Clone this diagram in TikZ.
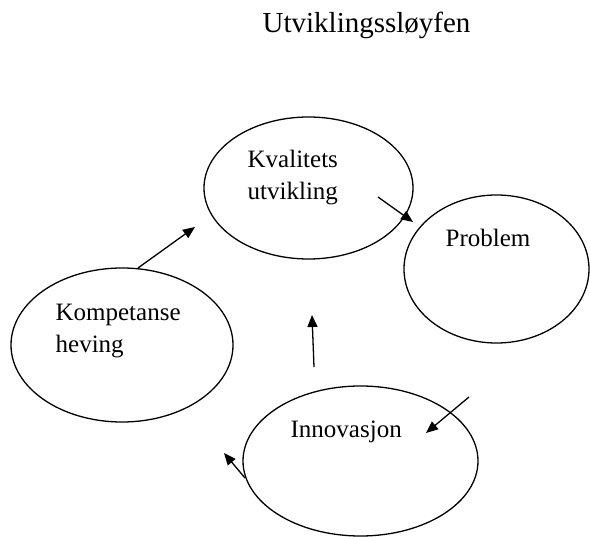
\documentclass[tikz,border=0pt]{standalone}
\usepackage{fontspec}
\setmainfont{Liberation Serif}
\usetikzlibrary{arrows.meta,shapes.geometric}

\begin{document}
\begin{tikzpicture}[x=1pt,y=-1pt,->,>={Triangle[length=12pt,width=10pt]},line width=1.3pt,
                    blob/.style={ellipse,draw,inner sep=0pt,-},
                    txt/.style={anchor=base west,inner sep=0pt,align=left,
                                font=\fontsize{25}{32.5}\selectfont}]

  \useasboundingbox (0,0) rectangle (590,537);

  \node[txt,font=\fontsize{29}{35}\selectfont] (title) at (262,33) {Utviklingssløyfen};

  \node[blob,minimum width=209pt,minimum height=142pt] (kval) at (308.5,188) {};
  \node[blob,minimum width=185pt,minimum height=148pt] (prob) at (496.5,269) {};
  \node[blob,minimum width=222pt,minimum height=154pt] (komp) at (122,345) {};
  \node[blob,minimum width=235pt,minimum height=150pt] (inno) at (360.5,461) {};

  % base of the last line
  \node[txt] (kvaltxt) at (247,200) {Kvalitets\\utvikling};
  \node[txt] (probtxt) at (445,247) {Problem};
  \node[txt] (komptxt) at (55,353)  {Kompetanse\\heving};
  \node[txt] (innotxt) at (290,438) {Innovasjon};

  % free arrow ends
  \coordinate (k1) at (138,268);  \coordinate (k2) at (195,227);
  \coordinate (p1) at (378,197);  \coordinate (p2) at (413,222);
  \coordinate (u1) at (314,367);  \coordinate (u2) at (312,315);
  \coordinate (i1) at (469,397);  \coordinate (i2) at (426,433);
  \coordinate (v1) at (245,478);  \coordinate (v2) at (224,453);

  \path (k1) edge (k2)
        (p1) edge (p2)
        (u1) edge (u2)
        (i1) edge (i2)
        (v1) edge (v2);
\end{tikzpicture}
\end{document}
